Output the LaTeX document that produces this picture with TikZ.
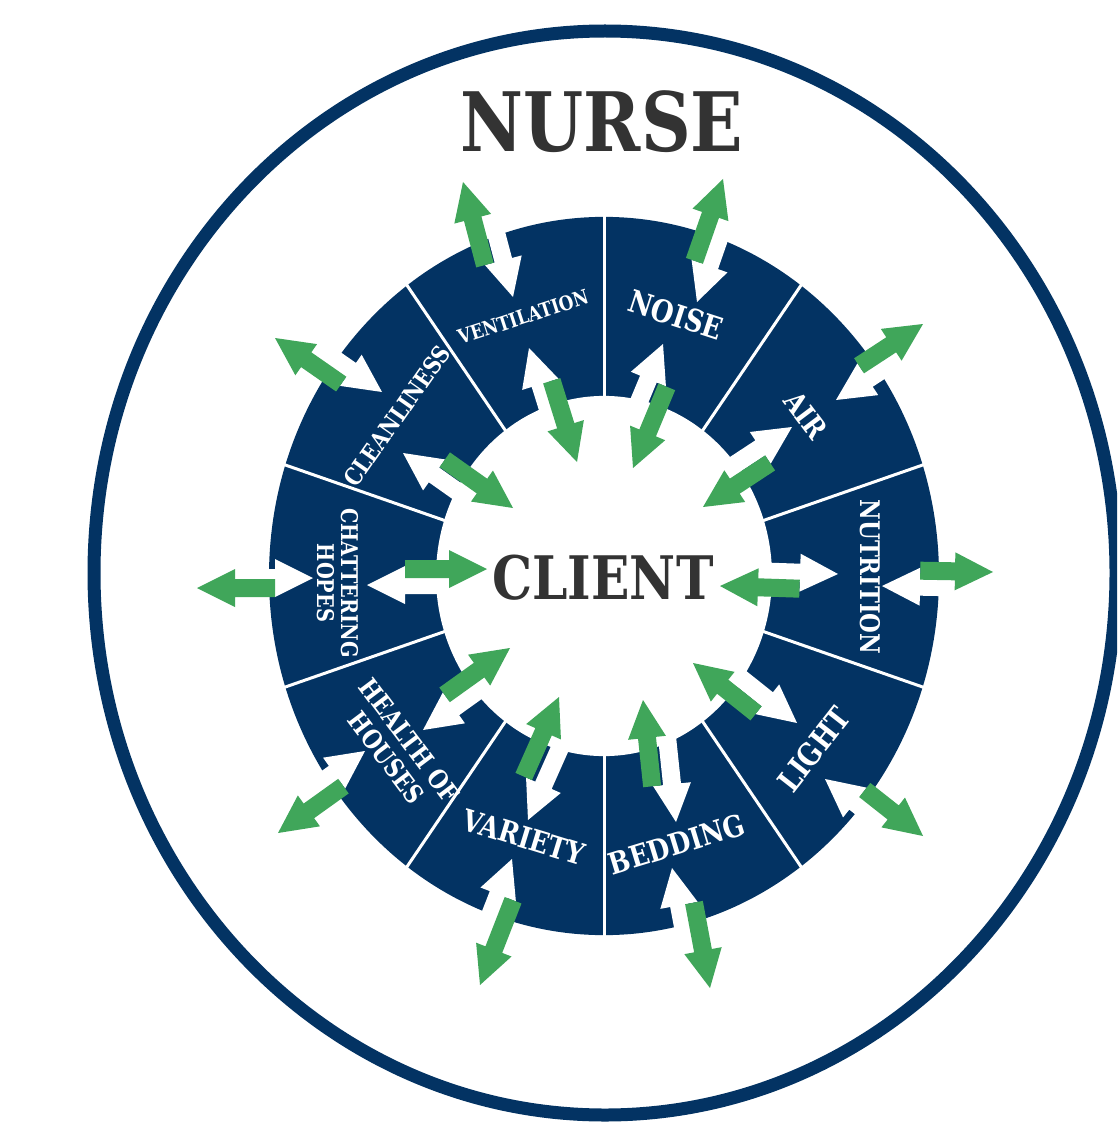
\documentclass[tikz,border=0pt]{standalone}
\usepackage{fontspec}
\newfontfamily\slab[FakeStretch=0.84]{DejaVu Serif}
\definecolor{navy}{RGB}{3,51,99}
\definecolor{agreen}{RGB}{64,166,90}
\definecolor{tgray}{RGB}{51,51,51}
\newcommand\lf[2]{\slab\bfseries\fontsize{#1}{#2}\selectfont}
% one block arrow: tip x, tip y, unit vector (tail->tip) x, y, length, colour
\newcommand\arrowshape[6]{%
  \pgfmathsetmacro\aTx{(#1)-(#5)*(#3)}%
  \pgfmathsetmacro\aTy{(#2)-(#5)*(#4)}%
  \pgfmathsetmacro\aBx{(#1)-38*(#3)}%
  \pgfmathsetmacro\aBy{(#2)-38*(#4)}%
  \pgfmathsetmacro\amx{-1*(#4)}%
  \pgfmathsetmacro\amy{#3}%
  \fill[#6] ({\aTx+9*(\amx)},{\aTy+9*(\amy)}) -- ({\aBx+9*(\amx)},{\aBy+9*(\amy)})
    -- ({\aBx+19*(\amx)},{\aBy+19*(\amy)}) -- (#1,#2)
    -- ({\aBx-19*(\amx)},{\aBy-19*(\amy)}) -- ({\aBx-9*(\amx)},{\aBy-9*(\amy)})
    -- ({\aTx-9*(\amx)},{\aTy-9*(\amy)}) -- cycle;}
% a pair of opposite arrows: green tip, white tip, half lateral offset
\newcommand\pairarrows[5]{%
  \pgfmathsetmacro\qdx{((#1)-(#3))/10}%
  \pgfmathsetmacro\qdy{((#2)-(#4))/10}%
  \pgfmathsetmacro\qo{(#5)/10}%
  \pgfmathsetmacro\qds{(\qdx)*(\qdx)+(\qdy)*(\qdy)}%
  \pgfmathsetmacro\qL{sqrt(\qds-4*(\qo)*(\qo))}%
  \pgfmathsetmacro\qux{(\qL*(\qdx)-2*(\qo)*(\qdy))/\qds}%
  \pgfmathsetmacro\quy{(2*(\qo)*(\qdx)+\qL*(\qdy))/\qds}%
  \pgfmathsetmacro\qnux{-1*(\qux)}%
  \pgfmathsetmacro\qnuy{-1*(\quy)}%
  \pgfmathsetmacro\qA{10*\qL-38}%
  \arrowshape{#3}{#4}{\qnux}{\qnuy}{\qA}{white}%
  \arrowshape{#1}{#2}{\qux}{\quy}{\qA}{agreen}}
\begin{document}
\begin{tikzpicture}[x=1pt,y=-1pt,
  lbl/.style={text=white, inner sep=0pt, align=center},
  big/.style={text=tgray, inner sep=0pt}]
\useasboundingbox (0,0) rectangle (1117,1126);
\clip (0,0) rectangle (1117,1126);
% outer nurse circle
\draw[navy, line width=13] (605,573) ellipse [x radius=511, y radius=542];
% wheel
\begin{scope}[shift={(604,576)}, yscale=-1.072]
  \fill[navy] (0,0) circle (335);
  \foreach \a in {18,54,...,342}
    \draw[white, line width=3] (\a:150) -- (\a:345);
  \fill[white] (0,0) circle (168);
\end{scope}
% arrows: green tip, white tip, offset
\pairarrows{463}{182}{513}{297}{9.5}
\pairarrows{577}{462}{529}{348}{6}
\pairarrows{633}{468}{663}{344}{10}
\pairarrows{723}{179}{697}{302}{8}
\pairarrows{923}{324}{836}{400}{8}
\pairarrows{703}{507}{792}{427}{9}
\pairarrows{720}{586}{838}{574}{8}
\pairarrows{993}{572}{882}{586}{8}
\pairarrows{693}{663}{797}{723}{9}
\pairarrows{923}{836}{825}{779}{8}
\pairarrows{643}{700}{676}{822}{10}
\pairarrows{710}{988}{672}{868}{7.6}
\pairarrows{559}{697}{528}{820}{10.8}
\pairarrows{480}{985}{512}{859}{8}
\pairarrows{510}{648}{423}{730}{8}
\pairarrows{278}{833}{365}{751}{8}
\pairarrows{197}{588}{313}{578}{5}
\pairarrows{487}{569}{367}{585}{8}
\pairarrows{275}{338}{382}{392}{8.4}
\pairarrows{513}{508}{403}{453}{9.3}
% texts
\node[big, font=\lf{82}{82}] (nurse) at (602,122) {NURSE};
\node[big, font=\lf{60}{60}] (client) at (603,578) {CLIENT};
\node[lbl, rotate=18, font=\lf{20}{20}] (vent) at (523,317) {VENTILATION};
\node[lbl, rotate=-18, font=\lf{31}{31}] (noise) at (676,315) {NOISE};
\node[lbl, rotate=-53, font=\lf{29}{29}] (air) at (806,415) {AIR};
\node[lbl, rotate=-90, font=\lf{27}{27}] (nutr) at (870,577) {NUTRITION};
\node[lbl, rotate=52, font=\lf{31}{31}] (light) at (814,749) {LIGHT};
\node[lbl, rotate=17, font=\lf{30}{30}] (bedding) at (677,844) {BEDDING};
\node[lbl, rotate=-17, font=\lf{30}{30}] (variety) at (524,837) {VARIETY};
\node[lbl, rotate=-53, font=\lf{26}{29}] (health) at (398,749) {HEALTH OF\\HOUSES};
\node[lbl, rotate=-90, font=\lf{23}{24}] (chat) at (338,583) {CHATTERING\\HOPES};
\node[lbl, rotate=55, font=\lf{24}{24}] (clean) at (397,416) {CLEANLINESS};
\end{tikzpicture}
\end{document}
